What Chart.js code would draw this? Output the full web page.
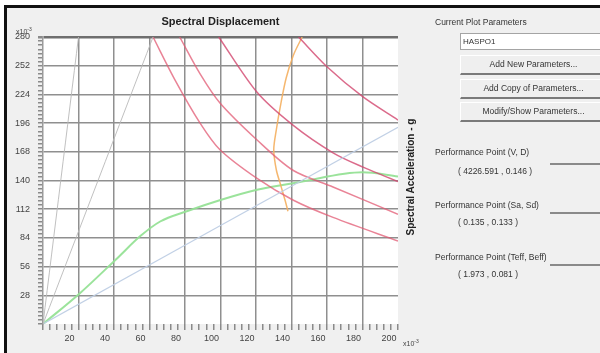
<!DOCTYPE html>
<html>
<head>
<meta charset="utf-8">
<script src="https://cdn.jsdelivr.net/npm/chart.js@4.4.0/dist/chart.umd.min.js"></script>
<style>
  body { margin: 0; width: 600px; height: 353px; background: #fff; overflow: hidden; position: relative;
         font-family: "Liberation Sans", Arial, sans-serif; }
  #frame { position: absolute; left: 4px; top: 5px; width: 600px; height: 360px; background: #f0f0f0;
           border-top: 3px solid #111; border-left: 3px solid #111; }
  #chartBox { position: absolute; left: 7px; top: 8px; width: 415px; height: 341px; }
  .lbl { position: absolute; font-size: 8.5px; color: #333; white-space: nowrap; }
  .combo { position: absolute; left: 460px; top: 33px; width: 145px; height: 15px; background: #fff;
           border: 1px solid #a4a4a4; font-size: 8px; line-height: 15px; padding-left: 2px; color: #333; }
  .btn { position: absolute; left: 460px; width: 145px; height: 17px; border-top: 1px solid #fff;
         border-left: 1px solid #fff; border-bottom: 2px solid #7a7a7a; background: #efefef;
         font-size: 8.5px; line-height: 17px; text-align: center; color: #333; }
  .rule { position: absolute; left: 550px; width: 50px; height: 2px; background: #8a8a8a; }
  .exp { position: absolute; font-size: 7px; color: #444; }
  .exp sup { font-size: 5px; }
  #yTitle { position: absolute; left: 410px; top: 177px; font-size: 10px; font-weight: bold; color: #222;
            white-space: nowrap; transform: translate(-50%, -50%) rotate(-90deg); }
</style>
</head>
<body>
<div id="frame"></div>
<div id="chartBox"><canvas id="spectrumChart"></canvas></div>

<div class="exp" style="left:16px; top:26px;">x10<sup>-3</sup></div>
<div class="exp" style="left:403px; top:338px;">x10<sup>-3</sup></div>
<div id="yTitle">Spectral Acceleration - g</div>

<div class="lbl" style="left:435px; top:17px;">Current Plot Parameters</div>
<div class="combo">HASPO1</div>
<div class="btn" style="top:55px;">Add New Parameters...</div>
<div class="btn" style="top:79px;">Add Copy of Parameters...</div>
<div class="btn" style="top:102px;">Modify/Show Parameters...</div>

<div class="lbl" style="left:435px; top:147px;">Performance Point (V, D)</div>
<div class="rule" style="top:163px;"></div>
<div class="lbl" style="left:458px; top:166px;">( 4226.591 , 0.146 )</div>

<div class="lbl" style="left:435px; top:200px;">Performance Point (Sa, Sd)</div>
<div class="rule" style="top:212px;"></div>
<div class="lbl" style="left:458px; top:217px;">( 0.135 , 0.133 )</div>

<div class="lbl" style="left:435px; top:252px;">Performance Point (Teff, Beff)</div>
<div class="rule" style="top:264px;"></div>
<div class="lbl" style="left:458px; top:269px;">( 1.973 , 0.081 )</div>

<script>
// Spectral displacement (x10^-3) and spectral acceleration (x10^-3 g)
const capacitySd = [0, 20.8, 41.7, 55, 66, 81, 100, 120.6, 144.8, 180, 200];
const capacitySa = [0, 30, 64, 86, 100, 110, 121, 131, 138.5, 148, 144];

const demand1Sd = [62, 74.4, 88.5, 99.7, 120.6, 140.8, 163.4, 200];
const demand1Sa = [280, 238, 196, 170, 142, 121, 104, 81];
const demand2Sd = [77, 88.5, 99.7, 120.6, 140.8, 163.4, 200];
const demand2Sa = [280, 244, 215.6, 179.5, 150, 133.7, 107];
const demand3Sd = [99, 120.6, 140.8, 163.4, 180.3, 200];
const demand3Sa = [280, 226, 194, 167, 153, 139];
const demand4Sd = [144, 160, 180.3, 200];
const demand4Sa = [280, 251, 221.5, 199];

const singleDemandSd = [146, 141, 137, 134, 131.5, 130, 131.5, 134, 136.5, 138];
const singleDemandSa = [280, 262, 240, 215, 190, 170, 150, 135, 120, 110];

const periodLine1Sd = [0, 20];
const periodLine1Sa = [0, 280];
const periodLine2Sd = [0, 62];
const periodLine2Sa = [0, 280];
const effPeriodSd = [0, 200];
const effPeriodSa = [0, 192];

const xMajor = 20;
const yMajor = 28;

function pts(xs, ys) {
    return xs.map(function(x, i) { return { x: x, y: ys[i] }; });
}

function curve(xs, ys, color, width) {
    return {
        data: pts(xs, ys),
        showLine: true,
        borderColor: color,
        borderWidth: width,
        pointRadius: 0,
        tension: 0.3,
        fill: false
    };
}

// white plot area on the grey window
const plotBg = {
    id: 'plotBg',
    beforeDraw(chart) {
        const a = chart.chartArea;
        const ctx = chart.ctx;
        ctx.save();
        ctx.fillStyle = '#ffffff';
        ctx.fillRect(a.left, a.top, a.right - a.left, a.bottom - a.top);
        ctx.restore();
    }
};

const fontFamily = '"Liberation Sans", Arial, sans-serif';
const ctx = document.getElementById('spectrumChart').getContext('2d');

const capacity = curve(capacitySd, capacitySa, 'rgba(150,225,150,0.95)', 2);
capacity.cubicInterpolationMode = 'monotone';

new Chart(ctx, {
    type: 'scatter',
    data: {
        datasets: [
            curve(periodLine1Sd, periodLine1Sa, 'rgba(185,185,185,0.9)', 1),
            curve(periodLine2Sd, periodLine2Sa, 'rgba(185,185,185,0.9)', 1),
            curve(effPeriodSd, effPeriodSa, 'rgba(190,205,228,0.95)', 1.2),
            curve(demand1Sd, demand1Sa, 'rgba(226,90,115,0.75)', 1.5),
            curve(demand2Sd, demand2Sa, 'rgba(226,90,115,0.75)', 1.5),
            curve(demand3Sd, demand3Sa, 'rgba(210,70,110,0.8)', 1.5),
            curve(demand4Sd, demand4Sa, 'rgba(210,70,110,0.8)', 1.5),
            curve(singleDemandSd, singleDemandSa, 'rgba(244,175,95,0.9)', 1.5),
            capacity
        ]
    },
    options: {
        responsive: true,
        maintainAspectRatio: false,
        animation: false,
        layout: { padding: { top: 0, right: 24, bottom: 0, left: 0 } },
        plugins: {
            legend: { display: false },
            tooltip: { enabled: false },
            title: {
                display: true,
                fullSize: false,
                text: 'Spectral Displacement',
                color: '#222',
                font: { family: fontFamily, size: 11, weight: 'bold' },
                padding: { top: 7.5, bottom: 8.3 }
            }
        },
        scales: {
            x: {
                type: 'linear',
                min: 0,
                max: 200,
                border: { display: false },
                grid: {
                    color: function(c) {
                        const v = c.tick ? c.tick.value : 0;
                        return (v % xMajor === 0 && v > 0 && v < 200) ? '#8f8f8f' : 'transparent';
                    },
                    lineWidth: 1.5,
                    tickColor: '#8a8a8a',
                    tickLength: 6
                },
                ticks: {
                    stepSize: 4,
                    autoSkip: false,
                    maxRotation: 0,
                    padding: 3,
                    labelOffset: -9,
                    color: '#444',
                    font: { family: fontFamily, size: 9 },
                    callback: function(v) { return (v % xMajor === 0 && v > 0) ? v : ''; }
                },
                afterFit: function(s) { s.height = 25; }
            },
            y: {
                type: 'linear',
                min: 0,
                max: 280,
                border: { display: true, color: '#9a9a9a', width: 1.5 },
                grid: {
                    color: function(c) {
                        const v = c.tick ? c.tick.value : 0;
                        if (v === 280) return '#6f6f6f';
                        return (v % yMajor === 0 && v > 0) ? '#8f8f8f' : 'transparent';
                    },
                    lineWidth: function(c) {
                        return (c.tick && c.tick.value === 280) ? 2.5 : 1.5;
                    },
                    tickColor: '#8a8a8a',
                    tickLength: 5
                },
                ticks: {
                    stepSize: 4,
                    autoSkip: false,
                    padding: 8,
                    color: '#444',
                    font: { family: fontFamily, size: 9 },
                    callback: function(v) { return (v % yMajor === 0 && v > 0) ? v : ''; }
                },
                afterFit: function(s) { s.width = 36; }
            }
        }
    },
    plugins: [plotBg]
});
</script>
</body>
</html>
